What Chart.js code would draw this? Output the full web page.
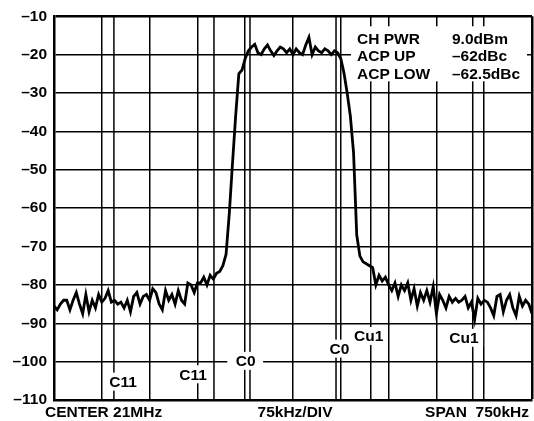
<!DOCTYPE html>
<html>
<head>
<meta charset="utf-8">
<script src="https://cdn.jsdelivr.net/npm/chart.js@4.4.0/dist/chart.umd.min.js"></script>
<style>
  html, body { margin: 0; padding: 0; background: #fff; }
</style>
</head>
<body>
<canvas id="spectrum" width="534" height="421"></canvas>
<script>
// sweep: 750kHz span round 21MHz, one reading every 5kHz (offset from center, kHz)
var sweepStart = -375, sweepStep = 5;
var levels = [
    -85.5, -86.5, -85, -84, -84, -86.5, -84, -82, -85, -87.5,
    -82.5, -87, -84, -86, -82.5, -84.5, -83.5, -81.5, -84.5, -84,
    -85, -84.5, -86, -84, -87, -83, -82, -85, -83, -82.5,
    -84, -81, -82, -85, -86.5, -81.5, -84, -82.5, -85, -81.5,
    -84, -85, -79.5, -80, -82, -79.5, -79.5, -78, -80, -77.5,
    -78.5, -77, -76.5, -75, -72, -61.5, -48.5, -36, -25, -24,
    -21, -19, -18, -17.3, -19.5, -20, -18.5, -17.5, -19, -20.2,
    -19, -18, -18.5, -19.5, -18.5, -20, -18.5, -19.5, -20, -17.5,
    -15.5, -20, -18, -19, -19.5, -18.5, -19, -20, -19, -19.5,
    -21, -24.8, -30, -36, -45.5, -67, -72.5, -74, -74.5, -75,
    -75.5, -80, -77.5, -79, -78, -80, -81.5, -79.5, -83, -80,
    -81.5, -79.5, -84, -81, -85.5, -82, -84, -81.5, -84.5, -80.5,
    -87.5, -82.5, -84, -86, -83, -84.5, -83.5, -84.5, -84, -83,
    -86, -84.5, -89, -83.5, -85, -84, -84.5, -86, -88, -83,
    -82.5, -87, -84, -82.5, -86, -88, -83, -85.5, -84, -85, -87.5
];

// channel edges and their labels
var markerFreqs = [-281, -124, -67.5, 67.5, 122, 282];
var markerLabels = ['C11', 'C11', 'C0', 'C0', 'Cu1', 'Cu1'];
var labelFreqs = [-267.5, -157.5, -75, 72, 118, 267.5];
var labelLevels = [-105.2, -103.3, -99.8, -96.6, -93.3, -93.8];

var readoutNames = ['CH PWR', 'ACP UP', 'ACP LOW'];
var readoutValues = ['9.0dBm', '–62dBc', '–62.5dBc'];
var bottomLabels = ['CENTER 21MHz', '75kHz/DIV', 'SPAN  750kHz'];

var FONT = 'bold 15.5px "Liberation Sans", Arial, Helvetica, sans-serif';

var points = [];
for (var i = 0; i < levels.length; i++) {
    points.push({ x: sweepStart + i * sweepStep, y: levels[i] });
}

var overlay = {
    id: 'overlay',
    beforeDatasetsDraw: function (chart) {
        var ctx = chart.ctx, xs = chart.scales.x, ys = chart.scales.y, area = chart.chartArea;
        ctx.save();
        ctx.strokeStyle = '#000';
        ctx.lineWidth = 1.5;
        markerFreqs.forEach(function (f) {
            var px = xs.getPixelForValue(f);
            ctx.beginPath();
            ctx.moveTo(px, area.top);
            ctx.lineTo(px, area.bottom);
            ctx.stroke();
        });

        ctx.font = FONT;
        ctx.textBaseline = 'middle';
        ctx.textAlign = 'center';
        markerLabels.forEach(function (t, i) {
            var px = xs.getPixelForValue(labelFreqs[i]);
            var py = ys.getPixelForValue(labelLevels[i]);
            var w = ctx.measureText(t).width;
            // the label on the -100 line gets a wider gap
            var pad = labelLevels[i] === -99.8 ? 8 : 5;
            ctx.fillStyle = '#fff';
            ctx.fillRect(px - w / 2 - pad, py - 9, w + pad * 2, 18);
            ctx.fillStyle = '#000';
            ctx.fillText(t, px + 0.5, py + 1);
        });

        // readout block, top right
        ctx.fillStyle = '#fff';
        ctx.fillRect(area.left + 297, area.top + 10, 176, 55);
        ctx.fillStyle = '#000';
        ctx.textAlign = 'left';
        readoutNames.forEach(function (t, i) {
            var py = area.top + 23 + i * 17.5;
            ctx.fillText(t, area.left + 303, py);
            ctx.fillText(readoutValues[i], area.left + 398, py);
        });
        ctx.restore();
    },
    afterDraw: function (chart) {
        var ctx = chart.ctx, area = chart.chartArea;
        ctx.save();
        ctx.font = FONT;
        ctx.fillStyle = '#000';
        ctx.textBaseline = 'middle';
        var py = area.bottom + 13;
        ctx.textAlign = 'left';
        ctx.fillText(bottomLabels[0], area.left - 9, py);
        ctx.textAlign = 'center';
        ctx.fillText(bottomLabels[1], area.left + 241, py);
        ctx.textAlign = 'right';
        ctx.fillText(bottomLabels[2], area.right - 3, py);
        ctx.restore();
    }
};

new Chart(document.getElementById('spectrum').getContext('2d'), {
    type: 'line',
    data: {
        datasets: [{
            data: points,
            borderColor: '#000',
            borderWidth: 2.8,
            borderJoinStyle: 'miter',
            pointRadius: 0,
            tension: 0,
            fill: false
        }]
    },
    options: {
        responsive: false,
        animation: false,
        devicePixelRatio: 1,
        layout: { padding: { top: 15, right: 2, left: 0, bottom: 0 } },
        plugins: { legend: { display: false }, tooltip: { enabled: false } },
        scales: {
            x: {
                type: 'linear',
                min: -375,
                max: 375,
                ticks: { stepSize: 75, display: false },
                grid: {
                    color: '#000',
                    drawTicks: false,
                    lineWidth: function (c) { return c.tick && c.tick.value === 375 ? 2.5 : 1.5; }
                },
                border: { color: '#000', width: 2.5 },
                afterFit: function (scale) { scale.height = 21; }
            },
            y: {
                min: -110,
                max: -10,
                ticks: {
                    stepSize: 10,
                    padding: 7,
                    color: '#000',
                    font: { family: '"Liberation Sans", Arial, sans-serif', size: 15.5, weight: 'bold' },
                    callback: function (v) { return '–' + Math.abs(v); }
                },
                grid: {
                    color: '#000',
                    drawTicks: false,
                    lineWidth: function (c) { return c.tick && c.tick.value === -10 ? 2.5 : 1.5; }
                },
                border: { color: '#000', width: 2.5 },
                afterFit: function (scale) { scale.width = 54; }
            }
        }
    },
    plugins: [overlay]
});
</script>
</body>
</html>
